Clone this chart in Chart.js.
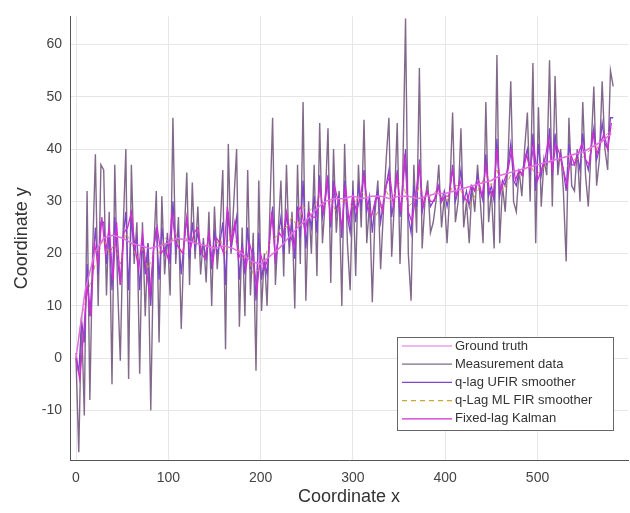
<!DOCTYPE html>
<html>
<head>
<meta charset="utf-8">
<script src="https://cdn.jsdelivr.net/npm/chart.js@4/dist/chart.umd.min.js"></script>
<style>
  body { margin: 0; background: #fff; }
  #wrap { width: 630px; height: 513px; }
</style>
</head>
<body>
<div id="wrap"><canvas id="trackChart" width="630" height="513"></canvas></div>
<script>
// series names
const seriesNames = ['Ground truth', 'Measurement data', 'q-lag UFIR smoother', 'q-Lag ML FIR smoother', 'Fixed-lag Kalman'];

// ground truth, every 10 units of x
const truthStep = 10;
const truthY = [0, 13, 20, 23, 23.5, 23, 22, 21.5, 21, 21.5, 22, 23, 22.5, 22, 21.5, 21, 21.5, 21, 20, 18.5,
  18, 19.5, 21, 23, 25, 26.5, 28.5, 30, 30.5, 30.5, 31, 30.5, 31, 31, 30.5, 31, 31, 30.5, 31, 31.5,
  31.5, 32, 32.5, 33, 33.5, 34, 35, 35.5, 36, 36.5, 37, 37.5, 38, 38.5, 39, 39.5, 40.5, 41.5, 43];

// measurement data, every 3 units of x
const measStep = 3;
const measY = [0, -18, 8, -11, 32, -8, 20, 39, 10, 37, 36, 12, 28, -5, 37, 14, -0.5, 24, 40, -4,
  37, 18, 26, -3, 26, 8, 22, -10, 20, 32, 3, 31, 16, 24, 12, 46, 18, 27, 5.6, 22,
  35.5, 14, 33.6, 19, 29, 16, 23, 14.5, 28, 10, 29, 17, 24, 36, 1.7, 41, 20, 30, 40, 6,
  25, 8, 36, 12, 24, -2.4, 34, 9, 20, 10, 28, 46, 14, 24, 34, 15.6, 37, 20, 28, 9.5,
  37, 18, 49, 11, 30, 20, 37, 15.7, 45, 22, 30, 44, 14.4, 40, 24, 32, 10, 41, 22, 13,
  34, 15.7, 37, 25, 45.6, 22, 30, 10.7, 28, 34, 17, 28, 38, 46, 19.4, 30, 45, 18, 35, 65,
  20, 11, 37, 24, 55.5, 21, 30, 34, 24, 26, 30, 37, 25, 31, 22, 32, 47, 26, 30, 44,
  25, 30, 22, 33, 28, 37, 30, 22, 49, 26, 32, 21, 58, 22, 33, 28, 38, 53, 30, 28,
  36, 31, 40, 47, 30, 56.5, 22, 48, 29, 38, 35, 57, 29, 54, 35, 40, 32, 18.5, 46, 33,
  32, 40, 30, 49, 35, 29, 40, 52, 33, 38, 53, 40, 36, 55, 52];

// q-lag UFIR smoother, every 3 units of x
const ufirStep = 3;
const ufirY = [1, -3, 7, 3, 18, 8, 17, 25, 16, 26, 26, 18, 24, 13, 27, 19, 14, 23, 28, 13,
  27, 20, 23, 13, 23, 16, 22, 10, 21, 25, 15, 25, 20, 23, 18, 30, 21, 24, 16, 22,
  27, 19, 26, 21, 24, 20, 22, 19, 24, 17, 24, 20, 22, 26, 14, 28, 21, 24, 27, 15,
  22, 16, 25, 17, 21, 11, 24, 15, 19, 16, 23, 29, 18, 23, 27, 20, 28, 22, 26, 19,
  29, 23, 34, 21, 28, 25, 31, 24, 35, 27, 30, 35, 25, 34, 28, 31, 23, 34, 27, 24,
  32, 26, 33, 29, 36, 28, 31, 24, 30, 32, 26, 30, 33, 36, 27, 31, 36, 27, 32, 40,
  27, 24, 33, 29, 38, 28, 31, 32, 29, 30, 31, 33, 30, 32, 29, 32, 37, 30, 32, 36,
  30, 32, 29, 33, 32, 35, 32, 30, 39, 31, 33, 30, 42, 31, 34, 33, 37, 41, 34, 33,
  36, 35, 38, 40, 35, 43, 32, 41, 35, 38, 37, 44, 35, 43, 37, 39, 36, 32, 41, 37,
  37, 39, 36, 43, 38, 36, 40, 44, 38, 40, 45, 41, 40, 46, 46];

// q-Lag ML FIR smoother, every 6 units of x
const mlfirStep = 6;
const mlfirY = [0, 8, 12, 16, 20, 23, 20, 22, 18, 24, 22, 19, 21, 17, 20, 20, 23, 22, 24, 20,
  23, 23, 22, 21, 22, 21, 23, 20, 24, 22, 19, 20, 16, 17, 19, 22, 23, 25, 25, 27,
  25, 29, 28, 29, 31, 29, 30, 28, 30, 30, 29, 31, 32, 28, 27, 29, 32, 30, 33, 34,
  29, 30, 33, 30, 31, 32, 31, 30, 33, 33, 31, 29, 31, 33, 35, 33, 36, 32, 34, 36,
  35, 36, 37, 35, 36, 37, 38, 38, 36, 37, 38, 38, 39, 40, 40, 42, 43, 44];

// fixed-lag Kalman, every 4 units of x
const kalmanStep = 4;
const kalmanY = [0, -4, 4, 14, 8, 22, 18, 27, 20, 25, 15, 26, 14, 24, 25, 28, 21, 17, 24, 17,
  12, 21, 25, 20, 21, 19, 28, 22, 21, 20, 27, 21, 24, 25, 20, 19, 24, 18, 23, 22,
  20, 29, 22, 26, 19, 21, 17, 22, 19, 13, 20, 17, 19, 28, 19, 24, 23, 28, 24, 21,
  28, 29, 24, 28, 27, 27, 33, 28, 34, 26, 33, 30, 25, 33, 26, 31, 28, 31, 35, 29,
  27, 30, 31, 28, 33, 35, 29, 35, 28, 39, 28, 26, 31, 37, 29, 32, 30, 30, 33, 30,
  31, 31, 36, 31, 34, 31, 30, 33, 32, 34, 31, 37, 32, 31, 40, 32, 34, 36, 40, 34,
  36, 35, 39, 36, 41, 34, 36, 38, 42, 36, 41, 39, 36, 33, 39, 37, 39, 41, 38, 37,
  43, 39, 41, 43, 40, 45];

const xTicks = [0, 100, 200, 300, 400, 500];
const yTicks = [-10, 0, 10, 20, 30, 40, 50, 60];

function toPoints(step, ys) {
  return ys.map((y, i) => ({ x: i * step, y: y }));
}

const colors = ['#e070e0', 'rgba(108,78,118,0.85)', '#7f45c8', '#c9a63a', '#d02ed0'];
const fontFamily = '"Liberation Sans", Arial, sans-serif';

// legend drawn inside the plot, MATLAB style
const boxLegend = {
  id: 'boxLegend',
  afterDraw(chart) {
    const ctx = chart.ctx;
    const x0 = 397, y0 = 337, w = 216, h = 93;
    ctx.save();
    ctx.fillStyle = '#fff';
    ctx.fillRect(x0, y0, w, h);
    ctx.strokeStyle = '#666';
    ctx.lineWidth = 1;
    ctx.strokeRect(x0 + 0.5, y0 + 0.5, w, h);
    ctx.font = '13px ' + fontFamily;
    ctx.textBaseline = 'middle';
    chart.data.datasets.forEach((ds, i) => {
      const y = y0 + 9 + i * 18.2;
      ctx.strokeStyle = ds.borderColor;
      ctx.lineWidth = 1.2;
      ctx.setLineDash(ds.borderDash || []);
      ctx.beginPath();
      ctx.moveTo(x0 + 5, y);
      ctx.lineTo(x0 + 55, y);
      ctx.stroke();
      ctx.setLineDash([]);
      ctx.fillStyle = '#333';
      ctx.fillText(ds.label, x0 + 58, y);
    });
    ctx.restore();
  }
};

const ctx = document.getElementById('trackChart').getContext('2d');
new Chart(ctx, {
  type: 'line',
  data: {
    datasets: [
      { label: seriesNames[0], data: toPoints(truthStep, truthY), borderColor: colors[0], borderWidth: 1.5, order: 0 },
      { label: seriesNames[1], data: toPoints(measStep, measY), borderColor: colors[1], borderWidth: 1.4, order: 5 },
      { label: seriesNames[2], data: toPoints(ufirStep, ufirY), borderColor: colors[2], borderWidth: 1.3, order: 4 },
      { label: seriesNames[3], data: toPoints(mlfirStep, mlfirY), borderColor: colors[3], borderWidth: 1, borderDash: [5, 4], order: 3 },
      { label: seriesNames[4], data: toPoints(kalmanStep, kalmanY), borderColor: colors[4], borderWidth: 1.3, order: 2 }
    ]
  },
  options: {
    responsive: false,
    animation: false,
    events: [],
    elements: { point: { radius: 0 }, line: { tension: 0 } },
    layout: { padding: { top: 7, right: 2, left: 0, bottom: 0 } },
    plugins: { legend: { display: false }, tooltip: { enabled: false } },
    scales: {
      x: {
        type: 'linear',
        min: -6.5,
        max: 598,
        afterBuildTicks: s => { s.ticks = xTicks.map(v => ({ value: v })); },
        afterFit: s => { s.height = 53; },
        grid: { color: '#e6e6e6', drawTicks: false },
        border: { color: '#555', width: 1 },
        ticks: { color: '#444', padding: 10, font: { size: 14, family: fontFamily } },
        title: { display: true, text: 'Coordinate x', color: '#333', padding: { top: 0, bottom: 5 },
          font: { size: 18, family: fontFamily } }
      },
      y: {
        min: -19.5,
        max: 65.4,
        afterBuildTicks: s => { s.ticks = yTicks.map(v => ({ value: v })); },
        afterFit: s => { s.width = 70; },
        grid: { color: '#e6e6e6', drawTicks: false },
        border: { color: '#555', width: 1 },
        ticks: { color: '#444', padding: 8, font: { size: 14, family: fontFamily } },
        title: { display: true, text: 'Coordinate y', color: '#333', padding: { top: 11, bottom: 0 },
          font: { size: 18, family: fontFamily } }
      }
    }
  },
  plugins: [boxLegend]
});
</script>
</body>
</html>
